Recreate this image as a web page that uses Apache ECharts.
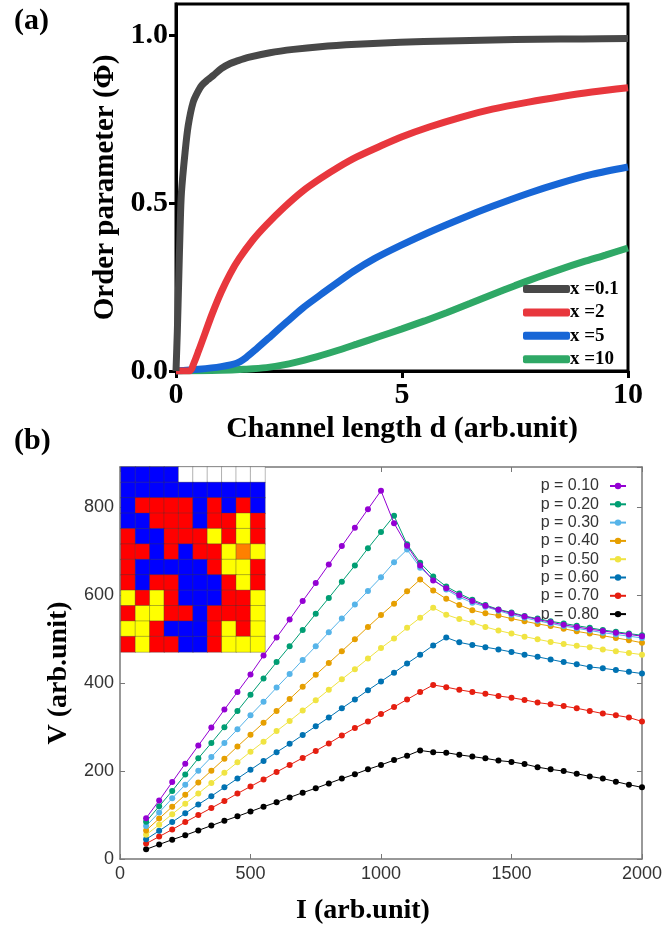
<!DOCTYPE html>
<html>
<head>
<meta charset="utf-8">
<script src="https://cdn.jsdelivr.net/npm/echarts@6/dist/echarts.min.js"></script>
<style>
  html, body { margin: 0; padding: 0; background: #fff; }
  #chart { width: 665px; height: 926px; }
</style>
</head>
<body>
<div id="chart"></div>
<script>
// ---------- Panel (a): order parameter vs channel length ----------
const seriesNamesA = ['x =0.1', 'x =2', 'x =5', 'x =10'];

const dX01 = [0, 0.03, 0.06, 0.09, 0.12, 0.2, 0.27, 0.38, 0.5, 0.57, 0.7, 0.83, 1.0, 1.2, 1.34, 1.6, 2.08, 2.6, 3.19, 4.0, 4.96, 6.0, 7.0, 8.0, 9.0, 10.0];
const phiX01 = [0, 0.12, 0.27, 0.42, 0.53, 0.65, 0.73, 0.80, 0.835, 0.85, 0.866, 0.88, 0.9, 0.915, 0.922, 0.933, 0.947, 0.957, 0.965, 0.972, 0.978, 0.982, 0.985, 0.987, 0.988, 0.989];

const dX2 = [0, 0.3, 0.4, 0.5, 0.65, 0.8, 1.0, 1.2, 1.4, 1.7, 2.0, 2.4, 2.8, 3.2, 3.6, 4.0, 4.5, 5.0, 5.6, 6.3, 7.0, 7.8, 8.5, 9.2, 10.0];
const phiX2 = [0, 0, 0.025, 0.06, 0.115, 0.17, 0.235, 0.29, 0.335, 0.39, 0.435, 0.488, 0.535, 0.573, 0.607, 0.637, 0.668, 0.697, 0.726, 0.755, 0.779, 0.80, 0.816, 0.83, 0.843];

const dX5 = [0, 0.5, 1.0, 1.34, 1.55, 1.78, 2.1, 2.45, 2.8, 3.19, 3.5, 3.92, 4.4, 4.96, 5.6, 6.32, 7.0, 7.8, 8.5, 9.2, 10.0];
const phiX5 = [0, 0.005, 0.013, 0.023, 0.04, 0.066, 0.104, 0.146, 0.187, 0.226, 0.256, 0.296, 0.335, 0.373, 0.413, 0.454, 0.49, 0.529, 0.559, 0.585, 0.607];

const dX10 = [0, 1.0, 1.5, 2.0, 2.5, 3.0, 3.5, 4.0, 4.5, 5.0, 5.5, 6.0, 6.5, 7.0, 7.5, 8.0, 8.5, 9.0, 9.5, 10.0];
const phiX10 = [0, 0.002, 0.005, 0.01, 0.021, 0.038, 0.058, 0.08, 0.1025, 0.1255, 0.149, 0.174, 0.2005, 0.2275, 0.254, 0.279, 0.3025, 0.3245, 0.345, 0.366];

const colorsA = ['#484848', '#e8373d', '#1766d6', '#2fa866'];

// ---------- Panel (b): V-I characteristics ----------
const currentI = [100, 150, 200, 250, 300, 350, 400, 450, 500, 550, 600, 650, 700, 750, 800, 850, 900, 950, 1000,
                  1050, 1100, 1150, 1200, 1250, 1300, 1350, 1400, 1450, 1500, 1550, 1600, 1650, 1700, 1750, 1800, 1850, 1900, 1950, 2000];

const seriesNamesB = ['p = 0.10', 'p = 0.20', 'p = 0.30', 'p = 0.40', 'p = 0.50', 'p = 0.60', 'p = 0.70', 'p = 0.80'];

const vP10 = [93, 133, 175, 217, 258, 299, 340, 380, 420, 463, 504, 545, 587, 628, 670, 712, 754, 796, 838,
              764, 713, 668, 634, 616, 600, 587, 576, 567, 559, 552, 545, 539, 533, 528, 523, 519, 515, 511, 507];
const vP20 = [85, 120, 155, 192, 229, 264, 300, 337, 374, 411, 448, 484, 521, 558, 594, 631, 668, 707, 744,
              781, 716, 674, 643, 620, 604, 590, 578, 568, 561, 553, 547, 541, 536, 531, 526, 521, 517, 513, 509];
const vP30 = [75, 106, 138, 169, 201, 232, 264, 295, 327, 358, 390, 421, 453, 484, 516, 547, 579, 610, 641,
              675, 704, 663, 637, 613, 596, 583, 574, 565, 556, 549, 542, 536, 530, 525, 520, 515, 511, 507, 503];
const vP40 = [65, 92, 119, 146, 174, 201, 228, 256, 283, 310, 337, 364, 392, 419, 446, 473, 500, 528, 555,
              581, 609, 636, 611, 592, 578, 566, 559, 554, 547, 541, 535, 530, 524, 518, 513, 508, 503, 498, 492];
const vP50 = [55, 78, 102, 126, 149, 173, 196, 220, 244, 267, 291, 314, 338, 361, 385, 409, 432, 456, 480,
              502, 526, 549, 572, 556, 546, 538, 528, 520, 513, 506, 500, 494, 489, 485, 482, 477, 473, 469, 465];
const vP60 = [45, 64, 84, 104, 124, 143, 163, 183, 203, 223, 243, 262, 282, 302, 322, 343, 363, 384, 404,
              424, 445, 465, 486, 504, 493, 487, 482, 477, 471, 465, 460, 454, 448, 443, 437, 434, 430, 426, 422];
const vP70 = [35, 51, 67, 84, 100, 116, 132, 149, 165, 181, 198, 214, 230, 246, 263, 281, 298, 313, 330,
              346, 363, 380, 396, 391, 385, 380, 376, 371, 367, 362, 356, 352, 348, 343, 337, 331, 327, 322, 313];
const vP80 = [22, 33, 44, 54, 65, 76, 87, 97, 108, 119, 129, 140, 151, 161, 172, 183, 193, 204, 214,
              225, 235, 247, 243, 242, 237, 233, 229, 224, 221, 216, 209, 204, 200, 194, 188, 183, 176, 169, 163];

const colorsB = ['#9400d3', '#009e73', '#56b4e9', '#e69f00', '#f0e442', '#0072b2', '#e51e10', '#000000'];

// ---------- Inset: lattice occupation map (0 empty, 1 blue, 2 red, 3 yellow, 4 orange) ----------
const latticeRows = [
  [1, 1, 1, 1, 0, 0, 0, 0, 0, 0],
  [1, 1, 1, 1, 1, 1, 1, 1, 1, 1],
  [1, 2, 2, 2, 2, 1, 2, 1, 2, 1],
  [1, 1, 2, 2, 2, 1, 2, 2, 3, 2],
  [2, 1, 1, 2, 2, 2, 3, 2, 3, 2],
  [2, 2, 1, 2, 1, 2, 2, 3, 4, 3],
  [2, 1, 1, 1, 1, 1, 2, 3, 3, 2],
  [2, 1, 2, 2, 1, 1, 1, 2, 3, 2],
  [3, 2, 3, 2, 1, 1, 1, 2, 2, 3],
  [2, 3, 3, 2, 2, 1, 2, 2, 2, 3],
  [3, 3, 2, 1, 1, 1, 2, 3, 2, 3],
  [2, 3, 2, 2, 1, 1, 2, 3, 3, 3]
];
const latticeColors = ['#ffffff', '#0000ff', '#ff0000', '#ffff00', '#ff8000'];

// ---------- build option ----------
const zip = (xs, ys) => xs.map((x, i) => [x, ys[i]]);
const SERIF = 'Liberation Serif';
const SANS = 'Liberation Sans';

const lineSetsA = [[dX01, phiX01], [dX2, phiX2], [dX5, phiX5], [dX10, phiX10]];
const seriesA = lineSetsA.map(([xs, ys], k) => ({
  name: seriesNamesA[k],
  type: 'line',
  xAxisIndex: 0,
  yAxisIndex: 0,
  data: zip(xs, ys),
  smooth: 0.3,
  showSymbol: false,
  symbol: 'none',
  color: colorsA[k],
  lineStyle: { width: 7, color: colorsA[k] },
  z: 3 + (3 - k)
}));

const valuesB = [vP10, vP20, vP30, vP40, vP50, vP60, vP70, vP80];
const seriesB = valuesB.map((vs, k) => ({
  name: seriesNamesB[k],
  type: 'line',
  xAxisIndex: 1,
  yAxisIndex: 1,
  data: zip(currentI, vs),
  symbol: 'circle',
  symbolSize: 6,
  color: colorsB[k],
  lineStyle: { width: 1, color: colorsB[k] },
  itemStyle: { color: colorsB[k] },
  z: 3 + (7 - k)
}));

const latticeData = [];
latticeRows.forEach((row, r) => row.forEach((s, c) => latticeData.push([c, r, s])));

const option = {
  backgroundColor: '#ffffff',
  animation: false,
  title: [
    { text: '(a)', left: 9, top: 1, textStyle: { fontFamily: SERIF, fontWeight: 'bold', fontSize: 30, color: '#000' } },
    { text: '(b)', left: 9, top: 421, textStyle: { fontFamily: SERIF, fontWeight: 'bold', fontSize: 30, color: '#000' } }
  ],
  grid: [
    { left: 176, top: 4, width: 452, height: 367, show: true, borderColor: '#000', borderWidth: 3, backgroundColor: 'rgba(0,0,0,0)' },
    { left: 120, top: 467, width: 522, height: 401 },
    { left: 121, top: 467, width: 144, height: 185 }
  ],
  xAxis: [
    {
      gridIndex: 0, type: 'value', min: 0, max: 10, interval: 5,
      axisLine: { show: true, onZero: false, lineStyle: { color: '#000', width: 3 } },
      axisTick: { show: true, inside: false, length: 7, lineStyle: { color: '#000', width: 3 } },
      axisLabel: { fontFamily: SERIF, fontWeight: 'bold', fontSize: 30, color: '#000', margin: 9 },
      splitLine: { show: false },
      name: 'Channel length d (arb.unit)', nameLocation: 'middle', nameGap: 43,
      nameTextStyle: { fontFamily: SERIF, fontWeight: 'bold', fontSize: 30, color: '#000' }
    },
    {
      gridIndex: 1, type: 'value', min: 0, max: 2000, interval: 500,
      axisLine: { show: true, onZero: false, lineStyle: { color: '#777', width: 1.5 } },
      axisTick: { show: true, inside: true, length: 5, lineStyle: { color: '#777', width: 1 } },
      axisLabel: { fontFamily: SANS, fontSize: 18, color: '#333', margin: 6, formatter: v => String(v) },
      splitLine: { show: false },
      name: 'I (arb.unit)', nameLocation: 'middle', nameGap: 38,
      nameTextStyle: { fontFamily: SERIF, fontWeight: 'bold', fontSize: 28, color: '#000', padding: [0, 36, 0, 0] }
    },
    {
      gridIndex: 1, type: 'value', min: 0, max: 2000, interval: 500, position: 'top',
      axisLine: { show: true, onZero: false, lineStyle: { color: '#777', width: 1.5 } },
      axisTick: { show: true, inside: true, length: 5, lineStyle: { color: '#777', width: 1 } },
      axisLabel: { show: false },
      splitLine: { show: false }
    },
    {
      gridIndex: 2, type: 'category', data: latticeRows[0].map((_, c) => c),
      show: false
    }
  ],
  yAxis: [
    {
      gridIndex: 0, type: 'value', min: 0, max: 1.092, interval: 0.5,
      axisLine: { show: true, onZero: false, lineStyle: { color: '#000', width: 3 } },
      axisTick: { show: true, inside: false, length: 7, lineStyle: { color: '#000', width: 3 } },
      axisLabel: { fontFamily: SERIF, fontWeight: 'bold', fontSize: 30, color: '#000', margin: 8, showMaxLabel: false,
                   formatter: v => v.toFixed(1) },
      splitLine: { show: false },
      name: 'Order parameter (Φ)', nameLocation: 'middle', nameGap: 56,
      nameTextStyle: { fontFamily: SERIF, fontWeight: 'bold', fontSize: 29, color: '#000' }
    },
    {
      gridIndex: 1, type: 'value', min: 0, max: 892, interval: 200,
      axisLine: { show: true, onZero: false, lineStyle: { color: '#777', width: 1.5 } },
      axisTick: { show: true, inside: true, length: 5, lineStyle: { color: '#777', width: 1 } },
      axisLabel: { fontFamily: SANS, fontSize: 18, color: '#333', margin: 6, showMaxLabel: false, formatter: v => String(v) },
      splitLine: { show: false },
      name: 'V (arb.unit)', nameLocation: 'middle', nameGap: 46,
      nameTextStyle: { fontFamily: SERIF, fontWeight: 'bold', fontSize: 28, color: '#000', padding: [0, 20, 0, 0] }
    },
    {
      gridIndex: 1, type: 'value', min: 0, max: 892, interval: 200, position: 'right',
      axisLine: { show: true, onZero: false, lineStyle: { color: '#777', width: 1.5 } },
      axisTick: { show: true, inside: true, length: 5, lineStyle: { color: '#777', width: 1 } },
      axisLabel: { show: false },
      splitLine: { show: false }
    },
    {
      gridIndex: 2, type: 'category', data: latticeRows.map((_, r) => r), inverse: true,
      show: false
    }
  ],
  legend: [
    {
      data: seriesNamesA,
      left: 518, top: 274, orient: 'vertical',
      icon: 'roundRect', itemWidth: 47, itemHeight: 8, itemGap: 3.4,
      textStyle: { fontFamily: SERIF, fontWeight: 'bold', fontSize: 19, lineHeight: 20, color: '#000', padding: [0, 0, 0, -5] }
    },
    {
      data: seriesNamesB,
      right: 33, top: 473, orient: 'vertical', align: 'right',
      itemWidth: 16, itemHeight: 8, itemGap: 2.3,
      textStyle: { fontFamily: SANS, fontSize: 16, lineHeight: 16, color: '#333', padding: [0, 6, 0, 0] }
    }
  ],
  visualMap: {
    type: 'piecewise', show: false, seriesIndex: 12, dimension: 2,
    pieces: latticeColors.map((c, s) => ({ value: s, color: c }))
  },
  series: [
    ...seriesA,
    ...seriesB,
    {
      type: 'heatmap',
      xAxisIndex: 3,
      yAxisIndex: 3,
      data: latticeData,
      itemStyle: { borderColor: 'rgba(60,60,60,0.35)', borderWidth: 1 },
      emphasis: { disabled: true },
      z: 20
    }
  ]
};

const chart = echarts.init(document.getElementById('chart'), null, { renderer: 'canvas' });
chart.setOption(option);
</script>
</body>
</html>
